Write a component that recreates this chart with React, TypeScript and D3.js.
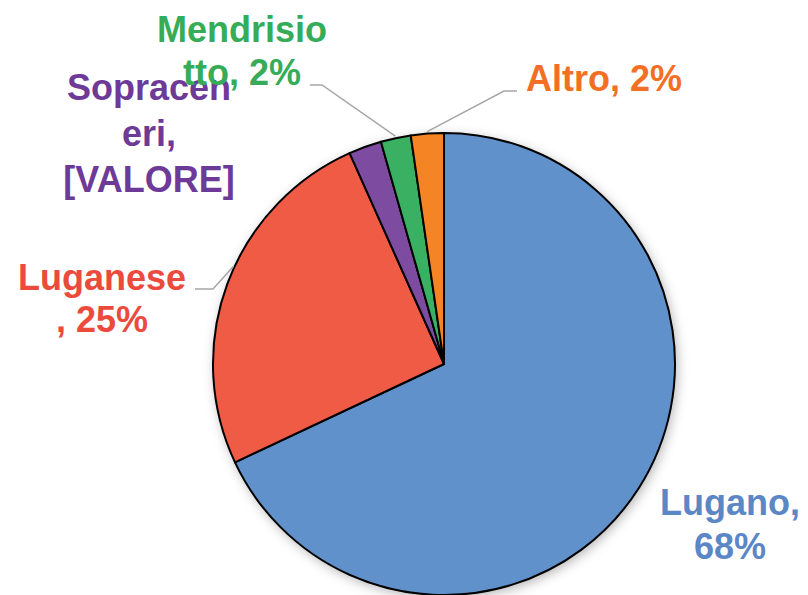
import React from "react";
import * as d3 from "d3";

const categories = ["Lugano", "Luganese", "Sopraceneri", "Mendrisiotto", "Altro"];
const values = [68, 25.3, 2.3, 2.1, 2.3];
const sliceColors = ["#6191CB", "#EF5B45", "#7D4B9F", "#39B062", "#F58424"];
const textColors = ["#5B87C6", "#EB4A3C", "#6E3A98", "#36AC58", "#F26F24"];
const labelLines = [
  ["Lugano,", "68%"],
  ["Luganese", ", 25%"],
  ["Sopracen", "eri,", "[VALORE]"],
  ["Mendrisio", "tto, 2%"],
  ["Altro, 2%"],
];
// label anchor (center x, first baseline y) and line height
const labelPos = [
  { x: 730, y: 515, lh: 44 },
  { x: 102, y: 290, lh: 42 },
  { x: 149, y: 100, lh: 46 },
  { x: 242, y: 42, lh: 43 },
  { x: 604, y: 91, lh: 43 },
];

export default function App() {
  const W = 808, H = 595;
  const cx = 444, cy = 364, r = 231;
  const pie = d3.pie<number>().sort(null).value((d) => d)(values);
  const arc = d3.arc<d3.PieArcDatum<number>>().innerRadius(0).outerRadius(r);
  const pt = (a: number, rr: number) => [cx + rr * Math.sin(a), cy - rr * Math.cos(a)];
  const mid = (i: number) => (pie[i].startAngle + pie[i].endAngle) / 2;

  // leader lines: [labelEnd, elbow, slice edge]
  const leaders: { i: number; pts: number[][] }[] = [
    { i: 3, pts: [[310, 85], [322, 85], pt(mid(3), r + 2)] },
    { i: 4, pts: [[517, 91], [504, 91], pt(mid(4), r + 2)] },
    { i: 1, pts: [[195, 289], [213, 289], pt(pie[1].startAngle + (pie[1].endAngle - pie[1].startAngle) * 0.55, r + 1)] },
  ];

  return (
    <svg width={W} height={H} style={{ position: "absolute", left: 0, top: 0 }}>
      <defs>
        <filter id="sh" x="-20%" y="-20%" width="140%" height="140%">
          <feDropShadow dx="2" dy="3" stdDeviation="6" floodColor="#000" floodOpacity="0.3" />
        </filter>
      </defs>
      <rect width={W} height={H} fill="#fff" />
      <g filter="url(#sh)">
        <circle cx={cx} cy={cy} r={r} fill="#fff" />
      </g>
      <g transform={`translate(${cx},${cy})`}>
        {pie.map((p, i) => (
          <path key={categories[i]} d={arc(p) || ""} fill={sliceColors[i]} stroke="#000" strokeWidth={2} strokeLinejoin="round" />
        ))}
      </g>
      {leaders.map((l) => (
        <polyline key={l.i} points={l.pts.map((p) => p.join(",")).join(" ")} fill="none" stroke="#A6A6A6" strokeWidth={1.5} />
      ))}
      {labelLines.map((lines, i) => (
        <text key={categories[i]} textAnchor="middle" fontFamily="Liberation Sans, Arial, sans-serif" fontWeight="bold" fontSize={36} fill={textColors[i]}>
          {lines.map((ln, j) => (
            <tspan key={j} x={labelPos[i].x} y={labelPos[i].y + j * labelPos[i].lh}>{ln}</tspan>
          ))}
        </text>
      ))}
    </svg>
  );
}
